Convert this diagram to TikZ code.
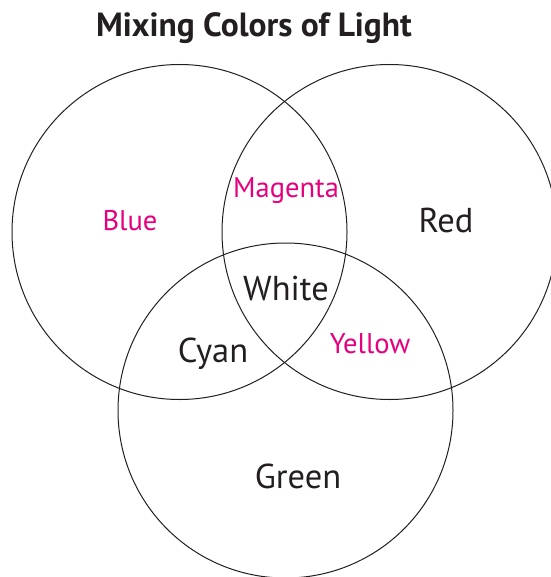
\documentclass[tikz,border=0pt]{standalone}
\usepackage{fontspec}
\setmainfont{PT Sans}
\usetikzlibrary{positioning}
\definecolor{mixpink}{HTML}{E6007E}
\definecolor{inkgray}{HTML}{231F20}

\begin{document}
\begin{tikzpicture}[x=1pt, y=-1pt,
  disc/.style={draw=inkgray, line width=1pt, circle, minimum size=335pt, inner sep=0pt},
  prim/.style={anchor=base, text=inkgray, font=\fontsize{34.5}{34.5}\selectfont},
  mix/.style={anchor=base, text=mixpink, font=\fontsize{28.5}{28.5}\selectfont},
  ttl/.style={anchor=base, text=inkgray, font=\fontsize{33.5}{33.5}\selectfont\bfseries}
]
\useasboundingbox (0,0) rectangle (550,577);
% three overlapping lights
\node[disc] (cblue) at (179.5,232) {};
\node[disc] (cred) at (389.5,232) {};
\node[disc] (cgreen) at (285.5,410.5) {};
% labels
\node[ttl] (title) at (254,37) {Mixing Colors of Light};
\node[mix] (lblue) at (130,230) {Blue};
\node[prim] (lred) at (446,232) {Red};
\node[mix] (lmagenta) at (286,197) {Magenta};
\node[prim] (lwhite) at (286,300) {White};
\node[mix] (lyellow) at (370,353) {Yellow};
\node[prim] (lcyan) at (213,362) {Cyan};
\node[prim] (lgreen) at (298,488) {Green};
\end{tikzpicture}
\end{document}
